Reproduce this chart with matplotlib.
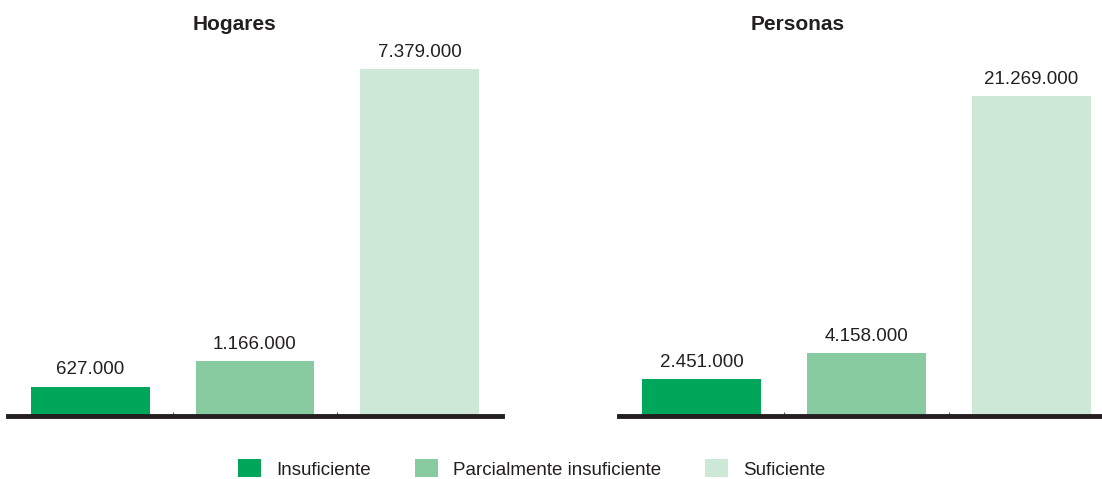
import matplotlib.pyplot as plt
from matplotlib.patches import Patch

plt.rcParams['font.family'] = ['Liberation Sans', 'DejaVu Sans']

categories = ['Insuficiente', 'Parcialmente insuficiente', 'Suficiente']
hogares = [627000, 1166000, 7379000]
personas = [2451000, 4158000, 21269000]
colors = ['#00a65a', '#88cba1', '#cde8d7']


def fmt(v):
    return '{:,}'.format(int(v)).replace(',', '.')


W, H = 1102, 479
fig = plt.figure(figsize=(W / 100, H / 100), dpi=100)

def make_axes(x0, x1, values, ymax):
    ax = fig.add_axes([x0 / W, 63 / H, (x1 - x0) / W, 376 / H])
    x = range(len(values))
    bars = ax.bar(x, values, width=0.72, color=colors, zorder=1)
    ax.bar_label(bars, labels=[fmt(v) for v in values], padding=6,
                 fontsize=13.5, color='#231f20')
    ax.set_xlim(-0.5, 2.5)
    ax.set_ylim(0, ymax)
    for s in ['top', 'right', 'left']:
        ax.spines[s].set_visible(False)
    ax.spines['bottom'].set_linewidth(3.5)
    ax.spines['bottom'].set_color('#231f20')
    ax.spines['bottom'].set_zorder(3)
    ax.set_yticks([])
    ax.set_xticks([0.5, 1.5])
    ax.set_xticklabels([])
    ax.tick_params(axis='x', direction='in', length=3, width=0.8, color='#555555')
    return ax


ax1 = make_axes(8, 502, hogares, 8000000)
ax2 = make_axes(619, 1114, personas, 25000000)

fig.text(235 / W, 1 - 24 / H, 'Hogares', ha='center', va='center',
         fontsize=15, fontweight='bold', color='#231f20')
fig.text(798 / W, 1 - 24 / H, 'Personas', ha='center', va='center',
         fontsize=15, fontweight='bold', color='#231f20')

handles = [Patch(facecolor=c, edgecolor='none') for c in colors]
fig.legend(handles, categories, loc='center', bbox_to_anchor=(532 / W, 1 - 469 / H),
           ncol=3, frameon=False, fontsize=13.5, handlelength=1.23, handleheight=1.05,
           handletextpad=0.8, columnspacing=2.35, labelcolor='#231f20',
           borderpad=0, borderaxespad=0)

fig.savefig('out.png', dpi=100)
